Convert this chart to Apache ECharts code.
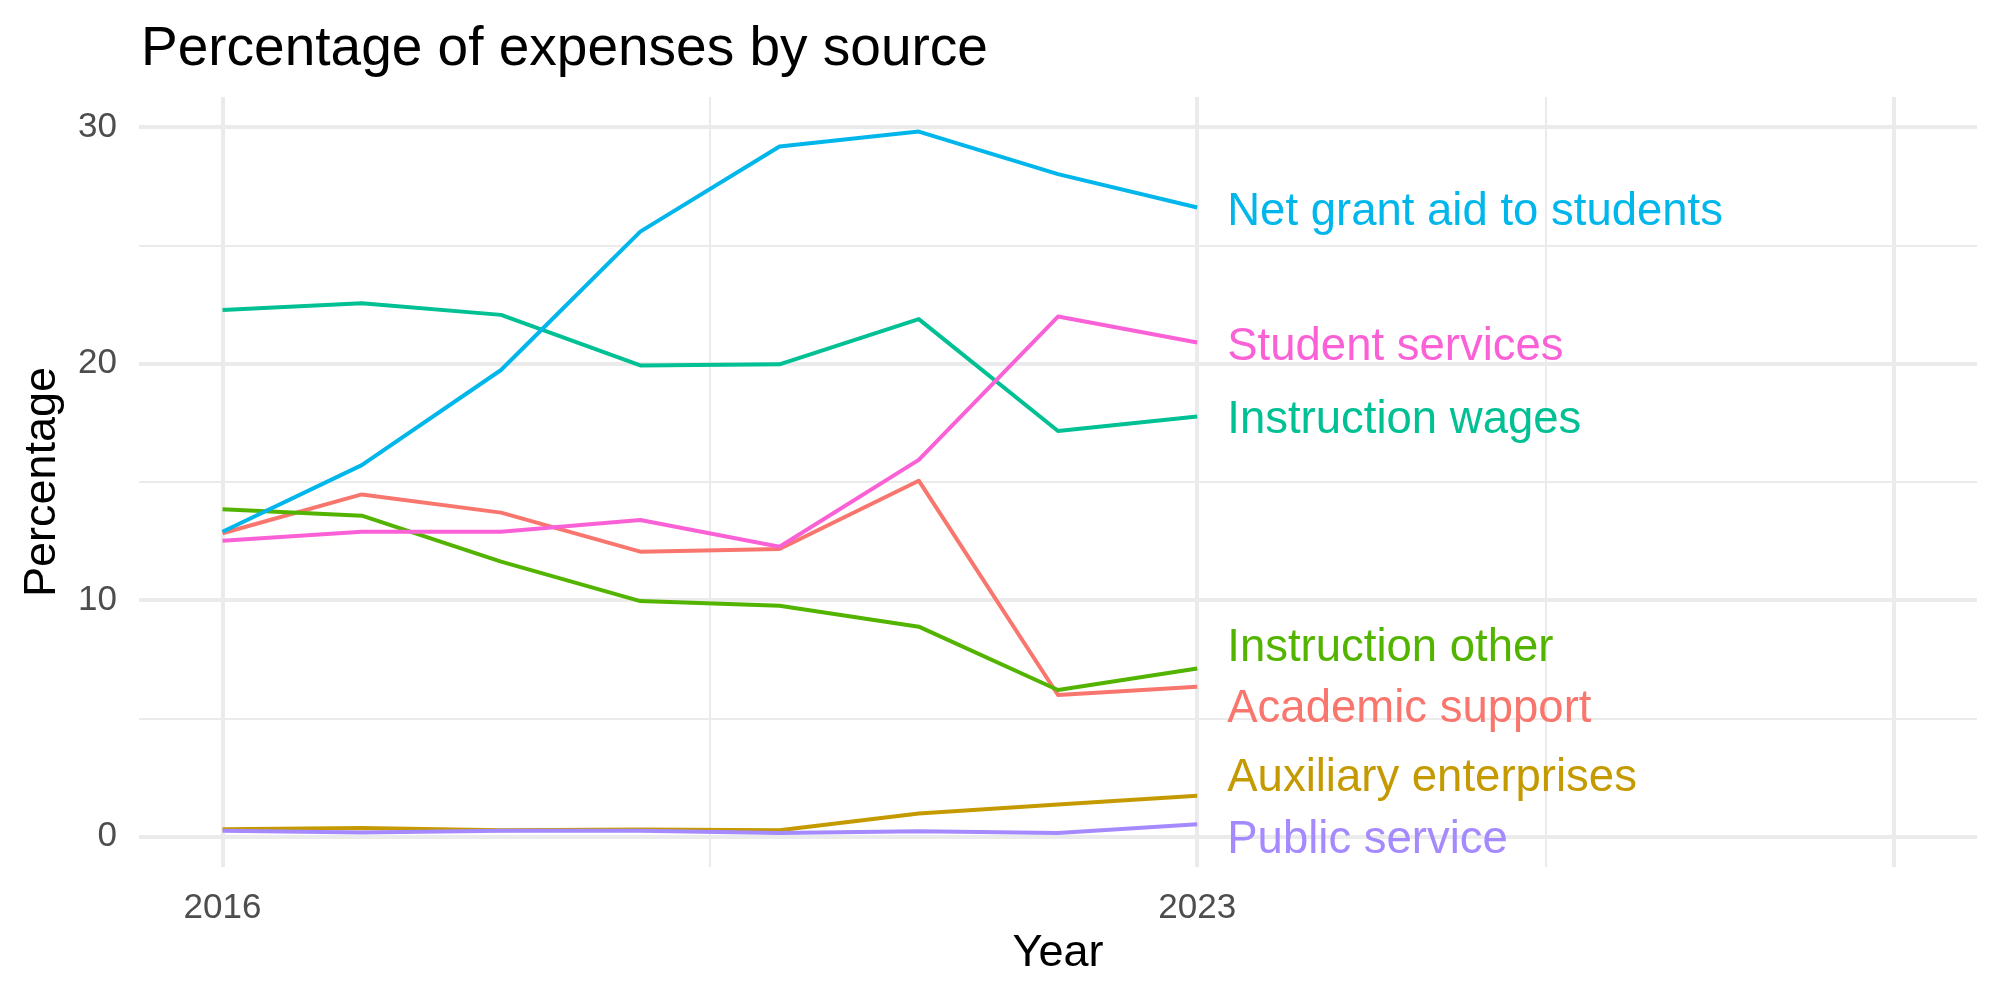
<!DOCTYPE html>
<html>
<head>
<meta charset="utf-8">
<script src="https://cdn.jsdelivr.net/npm/echarts@6/dist/echarts.min.js"></script>
<style>
  html, body { margin: 0; padding: 0; background: #fff; }
  #chart { width: 2000px; height: 1000px; }
</style>
</head>
<body>
<div id="chart"></div>
<script>
// --- data ---
const years = [2016, 2017, 2018, 2019, 2020, 2021, 2022, 2023];

const academicSupport   = [12.83, 14.47, 13.70, 12.05, 12.16, 15.05, 5.99, 6.34];
const auxiliary         = [0.32, 0.37, 0.27, 0.30, 0.27, 0.98, 1.36, 1.73];
const instructionOther  = [13.84, 13.57, 11.63, 9.96, 9.76, 8.88, 6.20, 7.11];
const instructionWages  = [22.27, 22.55, 22.06, 19.92, 19.97, 21.88, 17.15, 17.76];
const netGrantAid       = [12.89, 15.71, 19.73, 25.58, 29.18, 29.81, 28.01, 26.60];
const publicService     = [0.25, 0.18, 0.25, 0.25, 0.16, 0.23, 0.16, 0.53];
const studentServices   = [12.51, 12.89, 12.89, 13.39, 12.26, 15.93, 21.99, 20.89];

const seriesNames = ['Academic support', 'Auxiliary enterprises', 'Instruction other',
  'Instruction wages', 'Net grant aid to students', 'Public service', 'Student services'];
// label heights after repel (data units)
const labelY = [5.53, 2.64, 8.13, 17.75, 26.56, 0.01, 20.87];

const xMajor = [2016, 2023, 2028];
const xMinor = [2019.5, 2025.5];
const yMajor = [0, 10, 20, 30];
const yMinor = [5, 15, 25];
const xTicks = [2016, 2023];

// ggplot hue palette
const colors = ['#F8766D', '#C49A00', '#53B400', '#00C094', '#00B6EB', '#A58AFF', '#FB61D7'];
const values = [academicSupport, auxiliary, instructionOther, instructionWages,
  netGrantAid, publicService, studentServices];

const FONT = 'Liberation Sans';
const GRID = '#ebebeb';

const gridLines = [];
xMajor.forEach(v => gridLines.push({ xAxis: v, lineStyle: { width: 4 } }));
xMinor.forEach(v => gridLines.push({ xAxis: v, lineStyle: { width: 2 } }));
yMajor.forEach(v => gridLines.push({ yAxis: v, lineStyle: { width: 4 } }));
yMinor.forEach(v => gridLines.push({ yAxis: v, lineStyle: { width: 2 } }));

// background grid drawn as markLines so the irregular x spacing works
const series = [{
  name: 'grid',
  type: 'line',
  data: [],
  z: 1,
  silent: true,
  markLine: {
    z: 1,
    silent: true,
    symbol: 'none',
    animation: false,
    label: { show: false },
    lineStyle: { color: GRID, type: 'solid' },
    emphasis: { disabled: true },
    data: gridLines
  }
}];

seriesNames.forEach((name, i) => {
  series.push({
    name: name,
    type: 'line',
    z: 10,
    silent: true,
    showSymbol: false,
    symbol: 'none',
    emphasis: { disabled: true },
    data: years.map((y, k) => [y, values[i][k]]),
    lineStyle: { color: colors[i], width: 4, join: 'round' },
    itemStyle: { color: colors[i] }
  });
});

// end labels
seriesNames.forEach((name, i) => {
  series.push({
    name: name + ' label',
    type: 'scatter',
    z: 11,
    symbolSize: 0,
    silent: true,
    itemStyle: { opacity: 1, color: colors[i] },
    data: [[years[years.length - 1], labelY[i]]],
    label: {
      show: true,
      position: 'right',
      distance: 30,
      offset: [0, 4],
      formatter: name,
      color: colors[i],
      opacity: 1,
      textBorderWidth: 0,
      fontFamily: FONT,
      fontSize: 45.5
    }
  });
});

const chart = echarts.init(document.getElementById('chart'));
chart.setOption({
  animation: false,
  backgroundColor: '#fff',
  title: {
    text: 'Percentage of expenses by source',
    left: 136,
    top: 17,
    textStyle: { fontFamily: FONT, fontSize: 55, fontWeight: 'normal', color: '#000' }
  },
  grid: { left: 139, right: 23, top: 97, bottom: 133 },
  xAxis: {
    type: 'value',
    min: 2015.4,
    max: 2028.6,
    name: 'Year',
    nameLocation: 'middle',
    nameGap: 62,
    nameTextStyle: { fontFamily: FONT, fontSize: 45, color: '#000' },
    axisLine: { show: false },
    axisTick: { show: false },
    splitLine: { show: false },
    axisLabel: {
      customValues: xTicks,
      formatter: v => String(v),
      margin: 24,
      fontFamily: FONT, fontSize: 35, color: '#4d4d4d'
    }
  },
  yAxis: {
    type: 'value',
    min: -1.28,
    max: 31.27,
    name: 'Percentage',
    nameLocation: 'middle',
    nameGap: 74,
    nameTextStyle: { fontFamily: FONT, fontSize: 45, color: '#000' },
    axisLine: { show: false },
    axisTick: { show: false },
    splitLine: { show: false },
    axisLabel: {
      customValues: yMajor,
      margin: 22,
      fontFamily: FONT, fontSize: 35, color: '#4d4d4d'
    }
  },
  series: series
});
</script>
</body>
</html>
